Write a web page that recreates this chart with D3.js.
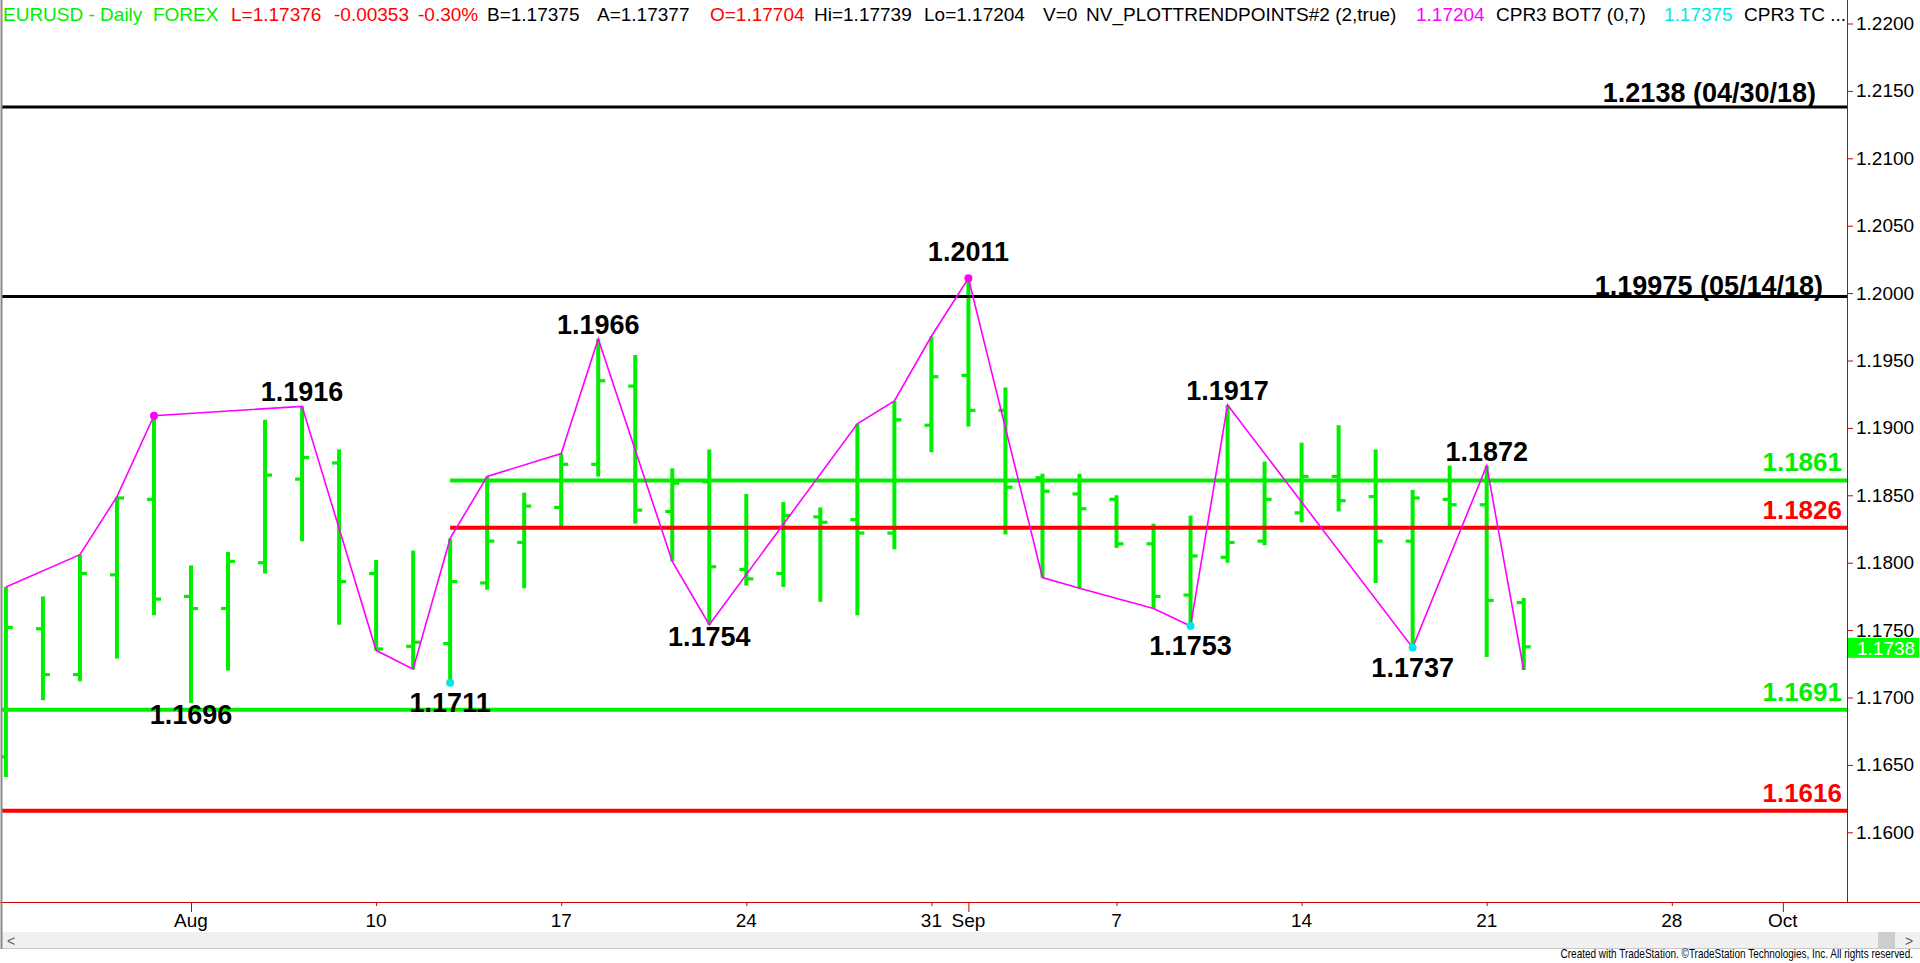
<!DOCTYPE html>
<html>
<head>
<meta charset="utf-8">
<script src="https://cdn.jsdelivr.net/npm/d3@7"></script>
<style>
  html, body { margin: 0; padding: 0; background: #ffffff; overflow: hidden; }
  svg { display: block; font-family: "Liberation Sans", Arial, sans-serif; }
</style>
</head>
<body>
<svg id="chart" width="1920" height="963"></svg>
<script>
// ---------------- DATA ----------------
const dates = ["2020-07-27","2020-07-28","2020-07-29","2020-07-30","2020-07-31",
  "2020-08-03","2020-08-04","2020-08-05","2020-08-06","2020-08-07",
  "2020-08-10","2020-08-11","2020-08-12","2020-08-13","2020-08-14",
  "2020-08-17","2020-08-18","2020-08-19","2020-08-20","2020-08-21",
  "2020-08-24","2020-08-25","2020-08-26","2020-08-27","2020-08-28",
  "2020-08-31","2020-09-01","2020-09-02","2020-09-03","2020-09-04",
  "2020-09-07","2020-09-08","2020-09-09","2020-09-10","2020-09-11",
  "2020-09-14","2020-09-15","2020-09-16","2020-09-17","2020-09-18",
  "2020-09-21","2020-09-22"];
const opens  = [1.1656,1.1751,1.1717,1.1791,1.1847, 1.1775,1.1766,1.1800,1.1862,1.1874,
  1.1792,1.1738,1.1740,1.1785,1.1815, 1.1841,1.1873,1.1931,1.1838,1.1860,
  1.1795,1.1792,1.1834,1.1832,1.1822, 1.1902,1.1939,1.1913,1.1863,1.1851,
  1.1847,1.1814,1.1776,1.1804,1.1816, 1.1837,1.1864,1.1849,1.1816,1.1847,
  1.1843,1.17704];
const highs  = [1.1782,1.1775,1.1806,1.1849,1.1909, 1.1798,1.1808,1.1906,1.1916,1.1884,
  1.1802,1.1809,1.1818,1.1864,1.1852, 1.1881,1.1966,1.1954,1.1870,1.1884,
  1.1851,1.1845,1.1841,1.1903,1.1920, 1.1968,1.2011,1.1930,1.1866,1.1866,
  1.1850,1.1829,1.1835,1.1917,1.1875, 1.1889,1.1902,1.1884,1.1854,1.1872,
  1.1872,1.17739];
const lows   = [1.1641,1.1698,1.1712,1.1729,1.1761, 1.1696,1.1720,1.1792,1.1816,1.1754,
  1.1735,1.1721,1.1711,1.1780,1.1781, 1.1827,1.1864,1.1829,1.1801,1.1754,
  1.1783,1.1782,1.1771,1.1761,1.1810, 1.1882,1.1901,1.1821,1.1789,1.1781,
  1.1811,1.1766,1.1753,1.1800,1.1813, 1.1830,1.1838,1.1785,1.1737,1.1826,
  1.1730,1.17204];
const closes = [1.1752,1.1717,1.1792,1.1848,1.1773, 1.1766,1.1801,1.1865,1.1878,1.1786,
  1.1736,1.1741,1.1786,1.1816,1.1842, 1.1873,1.1935,1.1839,1.1859,1.1797,
  1.1788,1.1835,1.1830,1.1822,1.1906, 1.1938,1.1913,1.1856,1.1853,1.1840,
  1.1814,1.1775,1.1805,1.1815,1.1847, 1.1864,1.1846,1.1816,1.1848,1.1843,
  1.1772,1.17376];

// trend-point zigzag (date, price)
const zigDates  = ["2020-07-27","2020-07-29","2020-07-30","2020-07-31","2020-08-06","2020-08-10",
  "2020-08-11","2020-08-12","2020-08-13","2020-08-17","2020-08-18","2020-08-20","2020-08-21",
  "2020-08-27","2020-08-28","2020-08-31","2020-09-01","2020-09-03","2020-09-04","2020-09-08",
  "2020-09-09","2020-09-10","2020-09-17","2020-09-21","2020-09-22"];
const zigPrices = [1.1782,1.1806,1.1849,1.1909,1.1916,1.1735,
  1.1721,1.1818,1.1864,1.1881,1.1966,1.1801,1.1754,
  1.1903,1.1920,1.1968,1.2011,1.1789,1.1781,1.1766,
  1.1753,1.1917,1.1737,1.1872,1.17204];

// swing dots
const dotDates  = ["2020-07-31","2020-09-01","2020-08-12","2020-09-09","2020-09-17"];
const dotPrices = [1.1909,1.2011,1.1711,1.1753,1.1737];
const dotKinds  = ["high","high","low","low","low"];

// swing labels
const swingDates  = ["2020-08-06","2020-08-03","2020-08-12","2020-08-18","2020-08-21","2020-09-01",
  "2020-09-10","2020-09-09","2020-09-21","2020-09-17"];
const swingPrices = [1.1916,1.1696,1.1711,1.1966,1.1754,1.2011,1.1917,1.1753,1.1872,1.1737];
const swingSides  = ["above","below","below","above","below","above","above","below","above","below"];

// horizontal levels
const levelValues = [1.2138, 1.19975, 1.1861, 1.1826, 1.1691, 1.1616];
const levelTexts  = ["1.2138 (04/30/18)", "1.19975 (05/14/18)", "1.1861", "1.1826", "1.1691", "1.1616"];
const levelKinds  = ["black", "black", "green", "red", "green", "red"];
const levelStarts = [null, null, "2020-08-12", "2020-08-12", null, null];

// axis ticks
const yTickValues = [1.16,1.165,1.17,1.175,1.18,1.185,1.19,1.195,1.20,1.205,1.21,1.215,1.22];
const xTickDates  = ["2020-08-03","2020-08-10","2020-08-17","2020-08-24","2020-08-31","2020-09-01",
  "2020-09-07","2020-09-14","2020-09-21","2020-09-28","2020-10-01"];
const xTickLabels = ["Aug","10","17","24","31","Sep","7","14","21","28","Oct"];
const xTickMonth  = [true,false,false,false,false,true,false,false,false,false,true];

const lastPrice = 1.17376;

// header segments
const headerTexts  = ["EURUSD - Daily  FOREX","L=1.17376","-0.00353","-0.30%","B=1.17375","A=1.17377",
  "O=1.17704","Hi=1.17739","Lo=1.17204","V=0","NV_PLOTTRENDPOINTS#2 (2,true)","1.17204",
  "CPR3 BOT7 (0,7)","1.17375","CPR3 TC ..."];
const headerColors = ["green","red","red","red","black","black","red","black","black","black","black",
  "magenta","black","cyan","black"];

// ---------------- STYLE ----------------
const COL = {
  green: "#00ee00", red: "#ff0000", black: "#000000", magenta: "#ff00ff", cyan: "#00e8e8",
  axis: "#cc0000"
};

// ---------------- SCALES ----------------
const parse = d3.utcParse("%Y-%m-%d");
const tradingDays = d3.utcDay.range(parse("2020-07-27"), parse("2020-10-03"))
  .filter(d => d.getUTCDay() !== 0 && d.getUTCDay() !== 6);
const dayIndex = new Map(tradingDays.map((d, i) => [d3.utcFormat("%Y-%m-%d")(d), i]));

const xIdx = d3.scaleLinear().domain([0, 49]).range([5.9, 5.9 + 49 * 37.02]);
const X = ds => xIdx(dayIndex.get(ds));
const y = d3.scaleLinear().domain([1.16, 1.22]).range([832.3, 23.5]);

const PLOT_RIGHT = 1847, PLOT_BOTTOM = 902;

const svg = d3.select("#chart");
svg.append("rect").attr("width", 1920).attr("height", 963).attr("fill", "#fff");

svg.append("defs").append("clipPath").attr("id", "plotclip")
  .append("rect").attr("x", 2).attr("y", 0).attr("width", PLOT_RIGHT - 2).attr("height", PLOT_BOTTOM);

const plot = svg.append("g").attr("clip-path", "url(#plotclip)");

// ---------------- BARS ----------------
const bars = dates.map((d, i) => ({ d, o: opens[i], h: highs[i], l: lows[i], c: closes[i] }));
const gBars = plot.append("g");
gBars.selectAll("line.hl").data(bars).join("line")
  .attr("x1", b => X(b.d)).attr("x2", b => X(b.d))
  .attr("y1", b => y(b.h)).attr("y2", b => y(b.l))
  .attr("stroke", COL.green).attr("stroke-width", 4);
gBars.selectAll("line.o").data(bars).join("line")
  .attr("x1", b => X(b.d) - 7).attr("x2", b => X(b.d))
  .attr("y1", b => y(b.o)).attr("y2", b => y(b.o))
  .attr("stroke", COL.green).attr("stroke-width", 3.2);
gBars.selectAll("line.c").data(bars).join("line")
  .attr("x1", b => X(b.d)).attr("x2", b => X(b.d) + 7)
  .attr("y1", b => y(b.c)).attr("y2", b => y(b.c))
  .attr("stroke", COL.green).attr("stroke-width", 3.2);

// ---------------- LEVELS ----------------
const levels = levelValues.map((v, i) => ({ v, t: levelTexts[i], k: levelKinds[i], s: levelStarts[i] }));
const gLev = plot.append("g");
gLev.selectAll("line").data(levels).join("line")
  .attr("x1", l => l.s ? X(l.s) : 0).attr("x2", PLOT_RIGHT)
  .attr("y1", l => y(l.v)).attr("y2", l => y(l.v))
  .attr("stroke", l => COL[l.k]).attr("stroke-width", l => l.k === "black" ? 3 : 4);
gLev.selectAll("text").data(levels).join("text")
  .attr("text-anchor", "end")
  .attr("x", (l, i) => l.k === "black" ? (i === 0 ? 1816 : 1823) : 1842)
  .attr("y", (l, i) => y(l.v) - (l.k === "black" ? (i === 0 ? 5 : 1) : 9))
  .attr("fill", l => COL[l.k]).attr("font-weight", "bold")
  .attr("font-size", l => l.k === "black" ? 27 : 26)
  .text(l => l.t);

// ---------------- ZIGZAG ----------------
const zig = zigDates.map((d, i) => ({ d, p: zigPrices[i] }));
plot.append("path").datum(zig)
  .attr("d", d3.line().x(z => X(z.d)).y(z => y(z.p)))
  .attr("fill", "none").attr("stroke", COL.magenta).attr("stroke-width", 1.6);

const dots = dotDates.map((d, i) => ({ d, p: dotPrices[i], k: dotKinds[i] }));
plot.selectAll("circle.dot").data(dots).join("circle")
  .attr("cx", p => X(p.d)).attr("cy", p => y(p.p)).attr("r", 4)
  .attr("fill", p => p.k === "high" ? COL.magenta : COL.cyan);

// ---------------- SWING LABELS ----------------
const dotSet = new Set(dotDates.map((d, i) => d + "|" + dotPrices[i]));
const swings = swingDates.map((d, i) => ({ d, p: swingPrices[i], s: swingSides[i] }));
plot.selectAll("text.sw").data(swings).join("text")
  .attr("text-anchor", "middle").attr("font-weight", "bold").attr("font-size", 27)
  .attr("fill", "#000")
  .attr("x", s => X(s.d))
  .attr("y", s => {
    const hasDot = dotSet.has(s.d + "|" + s.p);
    return s.s === "above" ? y(s.p) - (hasDot ? 17 : 5) : y(s.p) + (hasDot ? 29 : 21);
  })
  .text(s => s.p.toFixed(4));

// ---------------- RIGHT AXIS ----------------
svg.append("line").attr("x1", PLOT_RIGHT + 0.5).attr("x2", PLOT_RIGHT + 0.5)
  .attr("y1", 0).attr("y2", PLOT_BOTTOM).attr("stroke", COL.axis).attr("stroke-width", 1);
const yAxisG = svg.append("g").attr("transform", `translate(${PLOT_RIGHT},0)`)
  .call(d3.axisRight(y).tickValues(yTickValues).tickFormat(d3.format(".4f")).tickSize(6).tickPadding(3));
yAxisG.select(".domain").remove();
yAxisG.selectAll(".tick line").attr("stroke", COL.axis);
yAxisG.selectAll(".tick text").attr("font-size", 19).attr("fill", "#000")
  .attr("font-family", "Liberation Sans, Arial, sans-serif");

// last price box
svg.append("rect").attr("x", PLOT_RIGHT + 1).attr("y", y(lastPrice) - 9).attr("width", 71).attr("height", 20)
  .attr("fill", "#00ff00");
svg.append("text").attr("x", PLOT_RIGHT + 10).attr("y", y(lastPrice) + 1).attr("dy", "0.36em")
  .attr("font-size", 19).attr("fill", "#fff").text(lastPrice.toFixed(4));

// ---------------- BOTTOM AXIS ----------------
svg.append("line").attr("x1", 0).attr("x2", 1920).attr("y1", PLOT_BOTTOM + 0.5).attr("y2", PLOT_BOTTOM + 0.5)
  .attr("stroke", COL.axis).attr("stroke-width", 1);
const xt = xTickDates.map((d, i) => ({ d, t: xTickLabels[i], m: xTickMonth[i] }));
const gx = svg.append("g");
gx.selectAll("line").data(xt).join("line")
  .attr("x1", t => X(t.d) + 0.5).attr("x2", t => X(t.d) + 0.5)
  .attr("y1", PLOT_BOTTOM).attr("y2", t => PLOT_BOTTOM + (t.m ? 10 : 4))
  .attr("stroke", COL.axis).attr("stroke-width", 1);
gx.selectAll("text").data(xt).join("text")
  .attr("x", t => X(t.d)).attr("y", 927).attr("text-anchor", "middle")
  .attr("font-size", 19).attr("fill", "#000").text(t => t.t);

// ---------------- SCROLLBAR / FRAME ----------------
svg.append("rect").attr("x", 2).attr("y", 932).attr("width", 1918).attr("height", 16).attr("fill", "#f0f0f0");
svg.append("line").attr("x1", 2).attr("x2", 1920).attr("y1", 948.5).attr("y2", 948.5).attr("stroke", "#c8c8c8");
svg.append("rect").attr("x", 1878).attr("y", 932).attr("width", 17).attr("height", 16).attr("fill", "#cdcdcd");
svg.append("text").attr("x", 7).attr("y", 946).attr("font-size", 14).attr("fill", "#606060").text("<");
svg.append("text").attr("x", 1905).attr("y", 946).attr("font-size", 14).attr("fill", "#606060").text(">");
svg.append("line").attr("x1", 1.5).attr("x2", 1.5).attr("y1", 0).attr("y2", 949).attr("stroke", "#8a8a8a").attr("stroke-width", 2);

svg.append("g").attr("transform", "translate(1913,957.5) scale(0.8,1)")
  .append("text").attr("x", 0).attr("y", 0).attr("text-anchor", "end")
  .attr("font-size", 12.5).attr("fill", "#000")
  .text("Created with TradeStation. \u00A9TradeStation Technologies, Inc. All rights reserved.");

// ---------------- HEADER ----------------
const headerX = [3, 231, 334, 418, 487, 597, 710, 814, 924, 1043, 1086, 1416, 1496, 1664, 1744];
const hdr = svg.append("g");
hdr.selectAll("text").data(headerTexts).join("text")
  .attr("x", (t, i) => headerX[i]).attr("y", 21)
  .attr("font-size", 19).attr("fill", (t, i) => COL[headerColors[i]])
  .style("white-space", "pre")
  .text(t => t);
</script>
</body>
</html>
